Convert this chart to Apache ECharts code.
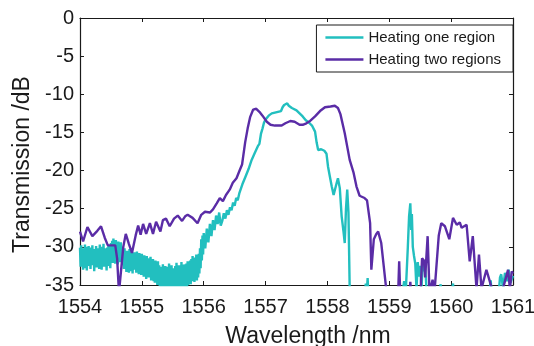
<!DOCTYPE html>
<html>
<head>
<meta charset="utf-8">
<script src="https://cdn.jsdelivr.net/npm/echarts@6/dist/echarts.min.js"></script>
<style>
html,body{margin:0;padding:0;background:#fff;}
#chart{width:534px;height:346px;}
</style>
</head>
<body>
<div id="chart"></div>
<script>
// Axis ticks
const xTicks = [1554, 1555, 1556, 1557, 1558, 1559, 1560, 1561];
const yTicks = [-35, -30, -25, -20, -15, -10, -5, 0];
const seriesNames = ['Heating one region', 'Heating two regions'];

// Heating one region (wavelength nm, transmission dB)
const oneX = [
1554.00,1554.01,1554.02,1554.03,1554.04,1554.05,1554.06,1554.07,1554.08,1554.09,
1554.10,1554.11,1554.12,1554.13,1554.14,1554.15,1554.16,1554.17,1554.18,1554.19,
1554.20,1554.21,1554.22,1554.23,1554.24,1554.25,1554.26,1554.27,1554.28,1554.29,
1554.30,1554.31,1554.32,1554.33,1554.34,1554.35,1554.36,1554.37,1554.38,1554.39,
1554.40,1554.41,1554.42,1554.43,1554.44,1554.45,1554.46,1554.47,1554.48,1554.49,
1554.50,1554.51,1554.52,1554.53,1554.54,1554.55,1554.56,1554.57,1554.58,1554.59,
1554.60,1554.61,1554.62,1554.63,1554.64,1554.65,1554.66,1554.67,1554.68,1554.69,
1554.70,1554.71,1554.72,1554.73,1554.74,1554.75,1554.76,1554.77,1554.78,1554.79,
1554.80,1554.81,1554.82,1554.83,1554.84,1554.85,1554.86,1554.87,1554.88,1554.89,
1554.90,1554.91,1554.92,1554.93,1554.94,1554.95,1554.96,1554.97,1554.98,1554.99,
1555.00,1555.01,1555.02,1555.03,1555.04,1555.05,1555.06,1555.07,1555.08,1555.09,
1555.10,1555.11,1555.12,1555.13,1555.14,1555.15,1555.16,1555.17,1555.18,1555.19,
1555.20,1555.21,1555.22,1555.23,1555.24,1555.25,1555.26,1555.27,1555.28,1555.29,
1555.30,1555.31,1555.32,1555.33,1555.34,1555.35,1555.36,1555.37,1555.38,1555.39,
1555.40,1555.41,1555.42,1555.43,1555.44,1555.45,1555.46,1555.47,1555.48,1555.49,
1555.50,1555.51,1555.52,1555.53,1555.54,1555.55,1555.56,1555.57,1555.58,1555.59,
1555.60,1555.61,1555.62,1555.63,1555.64,1555.65,1555.66,1555.67,1555.68,1555.69,
1555.70,1555.71,1555.72,1555.73,1555.74,1555.75,1555.76,1555.77,1555.78,1555.79,
1555.80,1555.81,1555.82,1555.83,1555.84,1555.85,1555.86,1555.87,1555.88,1555.89,
1555.90,1555.91,1555.92,1555.93,1555.94,1555.95,1555.96,1555.97,1555.98,1555.99,
1556.000,1556.025,1556.050,1556.075,1556.100,1556.125,1556.150,1556.175,1556.200,1556.225,
1556.250,1556.275,1556.300,1556.325,1556.350,1556.375,1556.400,1556.425,1556.450,1556.475,
1556.500,1556.525,1556.550,1556.575,1556.600,1556.625,1556.650,1556.675,1556.700,1556.725,
1556.750,1556.775,1556.800,1556.825,1556.850,1556.875,1556.900,1556.925,1556.950,1556.975,
1557.000,1557.050,1557.100,1557.150,1557.200,1557.250,1557.275,1557.300,1557.325,1557.350,
1557.375,1557.400,1557.425,1557.450,1557.500,1557.550,1557.600,1557.650,1557.700,1557.750,
1557.800,1557.825,1557.850,1557.900,1557.950,1557.985,1558.010,1558.040,1558.070,1558.100,
1558.120,1558.150,1558.170,1558.200,1558.230,1558.260,1558.280,1558.300,1558.320,1558.340,
1558.360,1558.400,1558.600,1558.620,1558.630,1558.650,1558.665,1559.200,1559.240,1559.260,
1559.300,1559.320,1559.340,1559.355,1559.365,1559.380,1559.400,1559.420,1559.440,1559.460,
1559.480,1559.500,1559.520,1559.540,1559.560,1559.580,1559.600,1559.620,1559.800,1559.830,
1559.850,1560.000,1560.030,1560.050,1560.600,1560.640,1560.660,1560.760,1560.790,1560.810,
1560.840,1560.870,1560.900,1560.930,1560.960,1561.000
];
const oneY = [
-30.1,-32.6,-29.8,-31.9,-30.5,-33.0,-30.2,-32.3,-29.7,-32.8,
-30.4,-33.1,-30.0,-32.0,-29.9,-32.5,-30.7,-32.9,-30.1,-31.8,
-29.8,-32.4,-30.3,-33.2,-30.6,-32.1,-29.9,-32.7,-30.2,-32.0,
-30.5,-32.9,-29.7,-32.3,-30.4,-33.0,-30.0,-31.9,-29.6,-32.6,
-30.2,-32.2,-30.8,-33.1,-30.1,-32.5,-29.8,-32.0,-30.4,-32.8,
-29.5,-31.7,-29.2,-32.1,-28.9,-31.4,-29.6,-32.2,-29.1,-31.5,
-29.8,-32.3,-29.3,-31.6,-29.7,-32.0,-29.4,-31.8,-30.0,-32.4,
-30.4,-32.9,-30.2,-32.5,-30.8,-33.3,-30.5,-32.7,-31.0,-33.4,
-30.3,-32.6,-30.9,-33.2,-30.6,-33.5,-31.1,-32.8,-30.7,-33.0,
-31.0,-33.4,-30.6,-32.9,-31.2,-33.6,-30.8,-33.1,-31.3,-33.7,
-30.9,-33.3,-31.4,-33.9,-31.1,-33.5,-31.6,-34.2,-31.2,-33.6,
-31.5,-34.0,-31.8,-33.8,-31.3,-34.4,-31.9,-34.1,-31.6,-34.5,
-32.1,-34.7,-31.8,-34.3,-32.3,-35.0,-31.9,-34.8,-32.4,-35.2,
-32.6,-35.4,-32.9,-35.6,-32.3,-35.2,-33.0,-35.7,-32.5,-35.3,
-33.1,-35.8,-32.6,-35.4,-32.2,-35.6,-32.9,-35.3,-32.4,-35.7,
-32.8,-35.5,-33.2,-35.8,-32.5,-35.4,-32.1,-35.6,-32.7,-35.3,
-32.4,-35.7,-32.9,-35.2,-32.0,-35.5,-32.6,-35.8,-32.3,-35.4,
-32.7,-35.1,-32.2,-35.6,-31.9,-35.0,-32.4,-34.8,-31.8,-34.9,
-31.6,-34.5,-31.2,-34.3,-31.8,-34.6,-31.4,-34.1,-31.0,-34.4,
-31.3,-34.0,-30.9,-33.5,-30.2,-32.8,-29.0,-31.8,-28.5,-31.0,
-28.2,-30.2,-27.6,-29.4,-27.0,-28.6,-26.5,-27.8,-25.9,-27.0,
-25.5,-27.2,-26.6,-25.6,-26.3,-25.2,-25.8,-24.8,-25.2,-24.2,
-24.6,-23.6,-23.9,-23.0,-22.9,-21.8,-21.9,-20.8,-20.9,-19.8,
-19.6,-18.6,-18.4,-17.7,-17.6,-16.8,-16.5,-15.2,-14.5,-13.7,
-13.3,-12.8,-12.5,-12.4,-12.3,-12.2,-11.7,-11.4,-11.6,-11.2,
-11.5,-11.3,-11.8,-11.7,-12.1,-12.5,-12.9,-13.4,-13.7,-14.1,
-14.9,-16.3,-17.3,-17.2,-17.4,-17.8,-19.5,-20.8,-22.1,-23.2,
-23.4,-21.6,-21.0,-22.3,-26.0,-28.0,-29.5,-25.0,-22.5,-25.5,
-35.5,-37.0,-37.0,-34.8,-37.0,-34.1,-37.0,-37.0,-34.5,-37.0,
-30.0,-26.0,-24.3,-27.8,-25.7,-30.0,-31.2,-32.2,-35.5,-32.0,
-33.9,-32.5,-35.5,-32.3,-33.2,-32.5,-35.3,-36.5,-37.0,-34.9,
-37.0,-37.0,-34.8,-37.0,-37.0,-34.4,-37.0,-37.0,-34.0,-33.6,
-35.5,-33.4,-34.5,-33.0,-34.7,-33.8
];

// Heating two regions (wavelength nm, transmission dB)
const twoX = [
1554.00,1554.05,1554.12,1554.20,1554.28,1554.34,1554.40,1554.45,1554.57,1554.60,
1554.63,1554.66,1554.70,1554.74,1554.79,1554.84,1554.90,1554.94,1554.98,1555.02,
1555.07,1555.13,1555.18,1555.23,1555.30,1555.34,1555.39,1555.45,1555.52,1555.58,
1555.65,1555.70,1555.74,1555.82,1555.90,1555.96,1556.02,1556.10,1556.15,1556.21,
1556.26,1556.29,1556.31,1556.36,1556.42,1556.47,1556.53,1556.58,1556.62,1556.67,
1556.71,1556.75,1556.80,1556.85,1556.90,1556.95,1557.02,1557.08,1557.15,1557.26,
1557.32,1557.40,1557.47,1557.55,1557.60,1557.66,1557.72,1557.80,1557.88,1557.96,
1558.05,1558.12,1558.17,1558.21,1558.28,1558.36,1558.42,1558.47,1558.52,1558.60,
1558.64,1558.69,1558.71,1558.75,1558.79,1558.82,1558.87,1558.95,1559.00,1559.14,
1559.16,1559.18,1559.32,1559.34,1559.36,1559.50,1559.53,1559.56,1559.58,1559.62,
1559.65,1559.70,1559.73,1559.76,1559.80,1559.84,1559.90,1559.97,1560.03,1560.09,
1560.14,1560.17,1560.19,1560.25,1560.30,1560.35,1560.41,1560.45,1560.49,1560.57,
1560.62,1560.66,1560.82,1560.87,1560.92,1560.95,1560.98,1561.00
];
const twoY = [
-28.0,-29.3,-27.4,-28.6,-27.9,-27.3,-28.8,-29.8,-29.8,-31.5,
-36.0,-36.0,-30.0,-28.3,-29.6,-30.8,-28.5,-27.2,-28.4,-27.0,
-28.3,-26.9,-28.3,-26.7,-28.0,-26.5,-26.3,-27.3,-26.3,-25.9,
-26.6,-26.0,-25.8,-26.2,-26.9,-25.8,-25.4,-25.5,-25.1,-24.3,
-23.6,-23.4,-24.0,-23.2,-22.5,-21.6,-21.0,-20.0,-19.2,-16.3,
-14.5,-13.0,-12.0,-11.9,-12.3,-12.8,-13.6,-14.0,-14.1,-14.1,
-13.8,-13.5,-13.6,-14.0,-14.0,-13.8,-13.5,-12.9,-12.2,-11.7,
-11.6,-11.5,-11.8,-12.6,-15.1,-18.6,-20.2,-22.1,-23.3,-23.6,
-23.9,-26.9,-33.0,-29.0,-28.3,-28.0,-29.5,-35.5,-37.0,-37.0,
-31.9,-37.0,-37.0,-34.6,-37.0,-37.0,-31.5,-31.8,-34.0,-28.6,
-36.0,-34.3,-36.0,-36.0,-28.5,-26.9,-27.3,-29.0,-26.2,-27.1,
-26.8,-27.5,-27.3,-27.1,-31.9,-28.6,-35.5,-31.0,-35.5,-33.0,
-34.4,-35.5,-36.0,-34.5,-33.0,-35.5,-33.2,-33.5
];

const colors = ['#22bfbf', '#5a2ca6'];
const pairs = (xs, ys) => xs.map((x, i) => [x, ys[i]]);

const chart = echarts.init(document.getElementById('chart'), null, {renderer: 'canvas'});
const font = 'Liberation Sans, Arial, Helvetica, sans-serif';
const axisLineStyle = {color: '#1a1a1a', width: 1.2};
chart.setOption({
  animation: false,
  backgroundColor: '#fff',
  textStyle: {fontFamily: font},
  grid: {left: 80, top: 18, width: 433, height: 267, containLabel: false, outerBoundsMode: 'none'},
  legend: {
    data: seriesNames,
    orient: 'vertical',
    right: 21,
    top: 25,
    icon: 'rect',
    itemWidth: 38,
    itemHeight: 2.5,
    itemGap: 7,
    padding: [5, 12, 5, 9],
    borderColor: '#1a1a1a',
    borderWidth: 1,
    backgroundColor: '#fff',
    textStyle: {fontSize: 15, color: '#1a1a1a', fontFamily: font}
  },
  xAxis: [{
    type: 'value', min: xTicks[0], max: xTicks[xTicks.length - 1], interval: 1,
    name: 'Wavelength /nm', nameLocation: 'middle', nameGap: 40,
    nameTextStyle: {fontSize: 23, color: '#1a1a1a', fontFamily: font, padding: [0, 0, 0, 23]},
    axisLine: {show: true, onZero: false, lineStyle: axisLineStyle},
    axisTick: {show: true, inside: true, length: 4, lineStyle: {color: '#1a1a1a'}},
    axisLabel: {fontSize: 20, color: '#1a1a1a', margin: 12, fontFamily: font,
      formatter: v => String(v)},
    splitLine: {show: false}
  }, {
    type: 'value', position: 'top', min: xTicks[0], max: xTicks[xTicks.length - 1], interval: 1,
    axisLine: {show: true, onZero: false, lineStyle: axisLineStyle},
    axisTick: {show: true, inside: true, length: 4, lineStyle: {color: '#1a1a1a'}},
    axisLabel: {show: false}, splitLine: {show: false}
  }],
  yAxis: [{
    type: 'value', min: yTicks[0], max: yTicks[yTicks.length - 1], interval: 5,
    name: 'Transmission /dB', nameLocation: 'middle', nameGap: 41,
    nameTextStyle: {fontSize: 23, color: '#1a1a1a', fontFamily: font, padding: [0, 26, 0, 0]},
    axisLine: {show: true, onZero: false, lineStyle: axisLineStyle},
    axisTick: {show: true, inside: true, length: 4, lineStyle: {color: '#1a1a1a'}},
    axisLabel: {fontSize: 20, color: '#1a1a1a', margin: 6, fontFamily: font,
      formatter: v => String(v)},
    splitLine: {show: false}
  }, {
    type: 'value', position: 'right', min: yTicks[0], max: yTicks[yTicks.length - 1], interval: 5,
    axisLine: {show: true, onZero: false, lineStyle: axisLineStyle},
    axisTick: {show: true, inside: true, length: 4, lineStyle: {color: '#1a1a1a'}},
    axisLabel: {show: false}, splitLine: {show: false}
  }],
  series: [{
    name: seriesNames[0], type: 'line', data: pairs(oneX, oneY),
    showSymbol: false, clip: true, color: colors[0],
    lineStyle: {width: 2.4, color: colors[0]}
  }, {
    name: seriesNames[1], type: 'line', data: pairs(twoX, twoY),
    showSymbol: false, clip: true, color: colors[1],
    lineStyle: {width: 2.4, color: colors[1]}
  }]
});
</script>
</body>
</html>
